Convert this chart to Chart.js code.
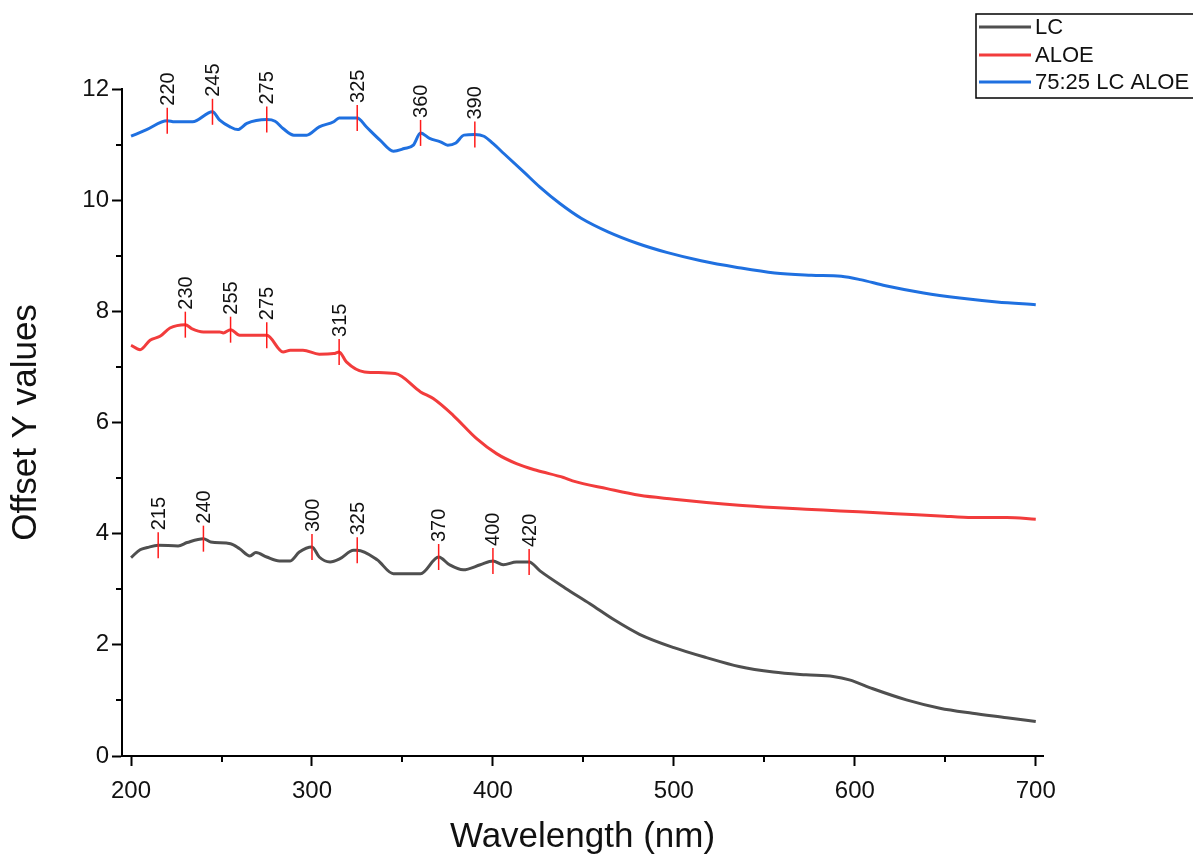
<!DOCTYPE html>
<html>
<head>
<meta charset="utf-8">
<script src="https://cdn.jsdelivr.net/npm/chart.js@4/dist/chart.umd.min.js"></script>
<style>
html, body { margin: 0; padding: 0; background: #ffffff; }
#wrap { width: 1193px; height: 859px; }
</style>
</head>
<body>
<div id="wrap"><canvas id="c" width="1193" height="859"></canvas></div>
<script>
// Offset UV-Vis spectra: wavelength (nm) and offset absorbance per sample
const lcNm  = [200, 205, 209, 215, 226, 231, 240, 244, 255, 260, 265.7, 269, 275, 282, 288, 293, 300, 304, 310, 315.5, 323, 325, 336, 345, 360, 370, 376, 383.6, 393, 400, 405.7, 413, 420, 426, 440, 453.6, 467, 481, 500, 518, 536, 555, 573, 588, 597, 610, 628.5, 647, 665, 684, 700];
const lcVal = [3.57, 3.71, 3.75, 3.79, 3.78, 3.84, 3.91, 3.85, 3.82, 3.73, 3.60, 3.66, 3.58, 3.51, 3.51, 3.67, 3.76, 3.58, 3.49, 3.55, 3.70, 3.70, 3.53, 3.28, 3.28, 3.58, 3.44, 3.35, 3.44, 3.51, 3.44, 3.49, 3.49, 3.33, 3.02, 2.74, 2.45, 2.19, 1.95, 1.77, 1.61, 1.51, 1.46, 1.43, 1.37, 1.21, 1.01, 0.86, 0.77, 0.69, 0.62];

const aloeNm  = [200, 205, 210.5, 216, 221.5, 230, 233.5, 240, 249, 251, 255, 260, 275, 284, 288, 295, 304, 312, 315, 319, 329, 346, 360, 367, 378, 391, 402, 413, 424, 439, 444, 463, 481, 500, 518, 536, 555, 573, 592, 610, 628.5, 647, 665, 684, 700];
const aloeVal = [7.39, 7.31, 7.48, 7.55, 7.70, 7.76, 7.69, 7.63, 7.63, 7.61, 7.67, 7.57, 7.57, 7.27, 7.30, 7.30, 7.23, 7.24, 7.27, 7.09, 6.91, 6.88, 6.55, 6.43, 6.13, 5.71, 5.44, 5.26, 5.14, 5.01, 4.95, 4.81, 4.69, 4.62, 4.56, 4.51, 4.47, 4.44, 4.41, 4.38, 4.35, 4.32, 4.29, 4.29, 4.26];

const blendNm  = [200, 208.6, 220, 224, 234, 245, 249, 254.7, 259, 264, 275, 279.6, 284, 290, 297, 304, 312, 315, 325, 330, 337.6, 345, 351, 356, 360, 365, 371, 375, 379.5, 384, 390, 395, 400, 406, 417.6, 425.8, 437, 449, 463.6, 480, 496, 515, 535, 555.7, 576, 592.5, 603, 617, 638, 658, 678.5, 700];
const blendVal = [11.15, 11.27, 11.43, 11.41, 11.41, 11.59, 11.44, 11.32, 11.27, 11.38, 11.45, 11.42, 11.29, 11.17, 11.17, 11.32, 11.41, 11.48, 11.48, 11.32, 11.08, 10.88, 10.93, 10.99, 11.21, 11.11, 11.05, 10.99, 11.03, 11.17, 11.18, 11.15, 11.02, 10.84, 10.49, 10.24, 9.94, 9.67, 9.43, 9.22, 9.06, 8.91, 8.79, 8.69, 8.65, 8.63, 8.57, 8.46, 8.33, 8.24, 8.17, 8.12];

// Labelled peak wavelengths (nm)
const lcPeaks    = [215, 240, 300, 325, 370, 400, 420];
const aloePeaks  = [230, 255, 275, 315];
const blendPeaks = [220, 245, 275, 325, 360, 390];

const seriesNames  = ['LC', 'ALOE', '75:25 LC ALOE'];
const seriesColors = ['#4f4f4f', '#f23c3c', '#1f70e0'];

const xTicks = [200, 300, 400, 500, 600, 700];
const xMinor = [250, 350, 450, 550, 650];
const yTicks = [0, 2, 4, 6, 8, 10, 12];
const yMinor = [1, 3, 5, 7, 9, 11];

const FONT = "'Liberation Sans', Arial, sans-serif";
const MARK_RED = '#ff1a1a';

function toPoints(xs, ys) { return xs.map((x, i) => ({ x: x, y: ys[i] })); }
function valueAt(xs, ys, x) {
  for (let i = 0; i < xs.length - 1; i++) {
    if (x >= xs[i] && x <= xs[i + 1]) {
      const t = (x - xs[i]) / (xs[i + 1] - xs[i]);
      return ys[i] + t * (ys[i + 1] - ys[i]);
    }
  }
  return ys[ys.length - 1];
}
function peakPoints(peaks, xs, ys) { return peaks.map(p => ({ x: p, y: valueAt(xs, ys, p) })); }

function curve(label, xs, ys, color) {
  return {
    label: label, data: toPoints(xs, ys), borderColor: color, backgroundColor: color,
    borderWidth: 3, pointRadius: 0, cubicInterpolationMode: 'monotone', fill: false, order: 2
  };
}
function peakSet(peaks, xs, ys) {
  return {
    type: 'scatter', label: '_peaks', peaks: peaks, data: peakPoints(peaks, xs, ys),
    pointStyle: 'line', rotation: 90, pointRadius: 13, pointHoverRadius: 13,
    borderColor: MARK_RED, backgroundColor: MARK_RED, pointBorderWidth: 1.5, order: 1
  };
}

// Rotated peak labels above each red marker
const peakLabels = {
  id: 'peakLabels',
  afterDatasetsDraw(chart) {
    const ctx = chart.ctx;
    ctx.save();
    ctx.fillStyle = '#111111';
    ctx.font = '20px ' + FONT;
    ctx.textAlign = 'left';
    ctx.textBaseline = 'middle';
    chart.data.datasets.forEach((ds, di) => {
      if (!ds.peaks) return;
      const meta = chart.getDatasetMeta(di);
      meta.data.forEach((pt, i) => {
        ctx.save();
        ctx.translate(pt.x + 1, pt.y - ds.pointRadius - 2);
        ctx.rotate(-Math.PI / 2);
        ctx.fillText(String(ds.peaks[i]), 0, 0);
        ctx.restore();
      });
    });
    ctx.restore();
  }
};

// Short minor ticks on both axes
const minorTicks = {
  id: 'minorTicks',
  afterDraw(chart) {
    const ctx = chart.ctx;
    const xs = chart.scales.x, ys = chart.scales.y;
    const area = chart.chartArea;
    ctx.save();
    ctx.strokeStyle = '#000000';
    ctx.lineWidth = 2;
    ctx.beginPath();
    xMinor.forEach(v => {
      const px = Math.round(xs.getPixelForValue(v));
      ctx.moveTo(px, area.bottom);
      ctx.lineTo(px, area.bottom + 6);
    });
    yMinor.forEach(v => {
      const py = Math.round(ys.getPixelForValue(v));
      ctx.moveTo(area.left, py);
      ctx.lineTo(area.left - 6, py);
    });
    ctx.stroke();
    ctx.restore();
  }
};

// Boxed legend in the top-right corner
const boxLegend = {
  id: 'boxLegend',
  afterDraw(chart) {
    const ctx = chart.ctx;
    const bx = 976, by = 14, bw = 240, bh = 84;
    ctx.save();
    ctx.strokeStyle = '#000000';
    ctx.lineWidth = 1.5;
    ctx.strokeRect(bx, by, bw, bh);
    ctx.font = '22px ' + FONT;
    ctx.textAlign = 'left';
    ctx.textBaseline = 'middle';
    const rows = [27, 55, 82];
    seriesNames.forEach((name, i) => {
      ctx.strokeStyle = seriesColors[i];
      ctx.lineWidth = 3;
      ctx.beginPath();
      ctx.moveTo(979, rows[i]);
      ctx.lineTo(1031, rows[i]);
      ctx.stroke();
      ctx.fillStyle = '#111111';
      ctx.fillText(name, 1035, rows[i] + 1);
    });
    ctx.restore();
  }
};

const chart = new Chart(document.getElementById('c'), {
  type: 'line',
  data: {
    datasets: [
      curve(seriesNames[0], lcNm, lcVal, seriesColors[0]),
      curve(seriesNames[1], aloeNm, aloeVal, seriesColors[1]),
      curve(seriesNames[2], blendNm, blendVal, seriesColors[2]),
      peakSet(lcPeaks, lcNm, lcVal),
      peakSet(aloePeaks, aloeNm, aloeVal),
      peakSet(blendPeaks, blendNm, blendVal)
    ]
  },
  options: {
    responsive: false,
    animation: false,
    devicePixelRatio: 1,
    layout: { padding: { top: 89, right: 150, left: 0, bottom: 0 } },
    plugins: { legend: { display: false }, tooltip: { enabled: false } },
    scales: {
      x: {
        type: 'linear', min: 195, max: 704,
        afterBuildTicks(s) { s.ticks = xTicks.map(v => ({ value: v })); },
        afterFit(s) { s.height = 103; },
        grid: { drawOnChartArea: false, tickLength: 10, tickColor: '#000', tickWidth: 2 },
        border: { display: true, color: '#000', width: 2 },
        ticks: { color: '#111', font: { family: FONT, size: 24 }, padding: 11, maxRotation: 0 },
        title: { display: true, text: 'Wavelength (nm)', color: '#111',
                 font: { family: FONT, size: 35, lineHeight: 1 }, padding: { top: 0, bottom: 4 } }
      },
      y: {
        type: 'linear', min: 0, max: 12,
        afterBuildTicks(s) { s.ticks = yTicks.map(v => ({ value: v })); },
        afterFit(s) { s.width = 122; },
        grid: { drawOnChartArea: false, tickLength: 10, tickColor: '#000', tickWidth: 2 },
        border: { display: true, color: '#000', width: 2 },
        ticks: { color: '#111', font: { family: FONT, size: 24 }, padding: 3 },
        title: { display: true, text: 'Offset Y values', color: '#111',
                 font: { family: FONT, size: 35, lineHeight: 1 }, padding: { top: 9, bottom: 0 } }
      }
    }
  },
  plugins: [peakLabels, minorTicks, boxLegend]
});
</script>
</body>
</html>
